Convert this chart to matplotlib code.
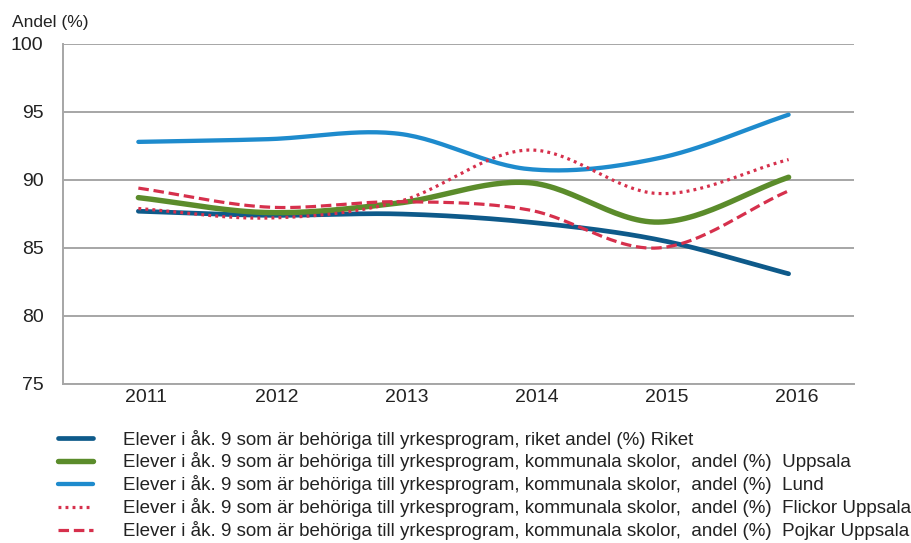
import numpy as np
import matplotlib
matplotlib.use("Agg")
import matplotlib.pyplot as plt
from matplotlib.lines import Line2D
from matplotlib.transforms import ScaledTranslation

years = [2011, 2012, 2013, 2014, 2015, 2016]
riket = [87.7, 87.4, 87.5, 86.9, 85.6, 83.1]
uppsala = [88.7, 87.6, 88.3, 89.8, 86.9, 90.2]
lund = [92.8, 93.0, 93.4, 90.8, 91.6, 94.8]
flickor = [87.9, 87.2, 88.4, 92.2, 89.0, 91.5]
pojkar = [89.4, 88.0, 88.4, 87.8, 85.0, 89.2]

labels = [
    "Elever i åk. 9 som är behöriga till yrkesprogram, riket andel (%) Riket",
    "Elever i åk. 9 som är behöriga till yrkesprogram, kommunala skolor,  andel (%)  Uppsala",
    "Elever i åk. 9 som är behöriga till yrkesprogram, kommunala skolor,  andel (%)  Lund",
    "Elever i åk. 9 som är behöriga till yrkesprogram, kommunala skolor,  andel (%)  Flickor Uppsala",
    "Elever i åk. 9 som är behöriga till yrkesprogram, kommunala skolor,  andel (%)  Pojkar Uppsala",
]
yticks = [75, 80, 85, 90, 95, 100]

plt.rcParams['font.family'] = ['Liberation Sans', 'DejaVu Sans']


def smooth(x, y, n=30):
    x = np.asarray(x, float)
    y = np.asarray(y, float)
    px = np.concatenate([[2 * x[0] - x[1]], x, [2 * x[-1] - x[-2]]])
    py = np.concatenate([[2 * y[0] - y[1]], y, [2 * y[-1] - y[-2]]])
    xs, ys = [], []
    for i in range(1, len(px) - 2):
        t = np.linspace(0, 1, n, endpoint=(i == len(px) - 3))
        for arr, out in ((px, xs), (py, ys)):
            p0, p1, p2, p3 = arr[i - 1], arr[i], arr[i + 1], arr[i + 2]
            out.extend(0.5 * ((2 * p1) + (-p0 + p2) * t
                              + (2 * p0 - 5 * p1 + 4 * p2 - p3) * t ** 2
                              + (-p0 + 3 * p1 - 3 * p2 + p3) * t ** 3))
    return np.array(xs), np.array(ys)


fig = plt.figure(figsize=(9.12, 5.43), dpi=100)
ax = fig.add_axes([0.069, 0.293, 0.867, 0.626])

series = [
    (riket, dict(color='#0e5a8a', lw=3.4, ls='-', solid_capstyle='round')),
    (uppsala, dict(color='#5b8c2b', lw=3.9, ls='-', solid_capstyle='round')),
    (lund, dict(color='#1e8bcd', lw=3.1, ls='-', solid_capstyle='round')),
    (flickor, dict(color='#d6304c', lw=2.3, ls=(0, (0.9, 1.3)))),
    (pojkar, dict(color='#d6304c', lw=2.3, ls=(0, (3.3, 1.5)))),
]
handles = []
for vals, st in series:
    sx, sy = smooth(years, vals)
    ax.plot(sx, sy, zorder=3, **st)
    handles.append(Line2D([], [], **st))

ax.set_xlim(2010.42, 2016.5)
ax.set_ylim(75, 100)
ax.set_yticks(yticks)
ax.set_xticks(years)
ax.set_xticklabels([str(y) for y in years])
ax.tick_params(length=0, labelsize=14, colors='#222222')
ax.tick_params(axis='x', pad=4)
ax.tick_params(axis='y', pad=14)
shift = ScaledTranslation(8 / 100, 0, fig.dpi_scale_trans)
for lab in ax.get_xticklabels():
    lab.set_transform(lab.get_transform() + shift)
ax.yaxis.grid(True, color='#a6a6a6', lw=1.4)
ax.set_axisbelow(True)
for s in ['top', 'right']:
    ax.spines[s].set_visible(False)
for s in ['left', 'bottom']:
    ax.spines[s].set_color('#a6a6a6')
    ax.spines[s].set_linewidth(1.4)

fig.text(0.013, 0.959, "Andel (%)", fontsize=12.5, color='#222222', va='center', ha='left')

fig.legend(handles, labels, loc='upper left', bbox_to_anchor=(0.0636, 0.209),
           frameon=False, fontsize=13.5, handlelength=1.87, handletextpad=1.6,
           labelspacing=0.21, borderaxespad=0, borderpad=0, labelcolor='#222222')

fig.savefig('out.png', dpi=100)
